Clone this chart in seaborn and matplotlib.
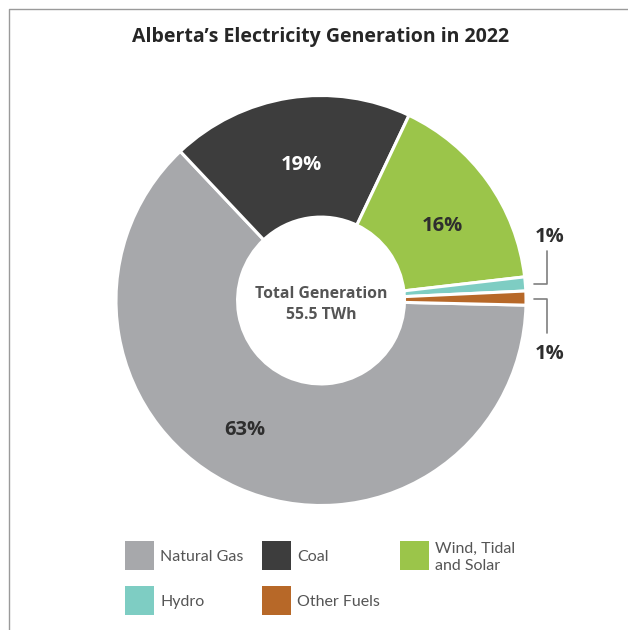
import matplotlib
matplotlib.use("Agg")
import matplotlib.pyplot as plt
import seaborn as sns
from matplotlib.patches import Rectangle
from matplotlib.lines import Line2D

# ---- data ----
sources = ["Natural Gas", "Coal", "Wind, Tidal\nand Solar", "Hydro", "Other Fuels"]
shares = [62.6, 19.1, 16.1, 1.1, 1.1]
pct_labels = ["63%", "19%", "16%", "1%", "1%"]
colors = ["#A7A8AB", "#3D3D3D", "#9BC54A", "#7ECDC3", "#B76828"]
title = "Alberta\u2019s Electricity Generation in 2022"
center_lines = ["Total Generation", "55.5 TWh"]

sns.set_theme(style="white")
plt.rcParams['font.family'] = ['Lato', 'DejaVu Sans']
BOLD = ['Open Sans', 'DejaVu Sans']

W, H = 628, 630
fig = plt.figure(figsize=(W / 100, H / 100), dpi=100)
fig.patch.set_facecolor('white')


def fpos(px, py):
    return px / W, 1 - py / H


cx, cy, R = 321, 300.5, 205
ax = fig.add_axes([(cx - R) / W, (H - cy - R) / H, 2 * R / W, 2 * R / H])
wedges, _ = ax.pie(shares, colors=colors, startangle=-1.3, counterclock=False, radius=1,
                   wedgeprops=dict(width=0.593, edgecolor='white', linewidth=2.2))
ax.set_xlim(-1, 1)
ax.set_ylim(-1, 1)
ax.set_aspect('equal')
ax.axis('off')


def d(px, py):
    return (px - cx) / R, (cy - py) / R


dark = "#2E2E2E"
# percentage labels (pixel anchors: center x, baseline y)
label_pos = [(245, 435), (301, 170), (442, 231), (550, 242), (550, 359)]
label_col = [dark, "white", dark, dark, dark]
for lab, (px, py), c in zip(pct_labels, label_pos, label_col):
    x, y = d(px, py)
    ax.text(x, y, lab, ha='center', va='baseline', fontsize=14.5, fontweight='bold',
            color=c, clip_on=False, family=BOLD)

# bracket leader lines for the small slices
bc = "#7F7F7F"
for pts in ([(546.7, 251), (546.7, 284), (534, 284)],
            [(534, 299.3), (546.7, 299.3), (546.7, 333.3)]):
    xs, ys = zip(*[d(*p) for p in pts])
    ax.add_line(Line2D(xs, ys, color=bc, lw=1.2, clip_on=False))

# center text
for line, py in zip(center_lines, [297.7, 319]):
    x, y = fpos(321, py)
    fig.text(x, y, line, ha='center', va='baseline', fontsize=11.3, fontweight='bold',
             color="#555555", family=BOLD)

# title
x, y = fpos(321, 42)
fig.text(x, y, title, ha='center', va='baseline', fontsize=14, fontweight='bold',
         color="#262626", family=BOLD)

# frame (left and top rules)
fig.add_artist(Line2D([9 / W, 9 / W, 1], [0, 1 - 9 / H, 1 - 9 / H],
                      transform=fig.transFigure, color="#9A9A9A", lw=1.0))

# legend
sq = 28.7
cols_x = [125, 262.3, 400]
rows_y = [541, 586]
for i, (name, c) in enumerate(zip(sources, colors)):
    r, k = divmod(i, 3)
    x0, y0 = cols_x[k], rows_y[r]
    fx, fy = fpos(x0, y0 + sq)
    fig.add_artist(Rectangle((fx, fy), sq / W, sq / H, transform=fig.transFigure,
                             facecolor=c, edgecolor='none'))
    lines = name.split("\n")
    if len(lines) == 1:
        bases = [y0 + 20.3]
    else:
        bases = [y0 + 12.3, y0 + 29]
    for ln, b in zip(lines, bases):
        tx, ty = fpos(x0 + 35, b)
        fig.text(tx, ty, ln, ha='left', va='baseline', fontsize=11.5, color="#555555")

fig.savefig("out.png", dpi=100, facecolor='white')
